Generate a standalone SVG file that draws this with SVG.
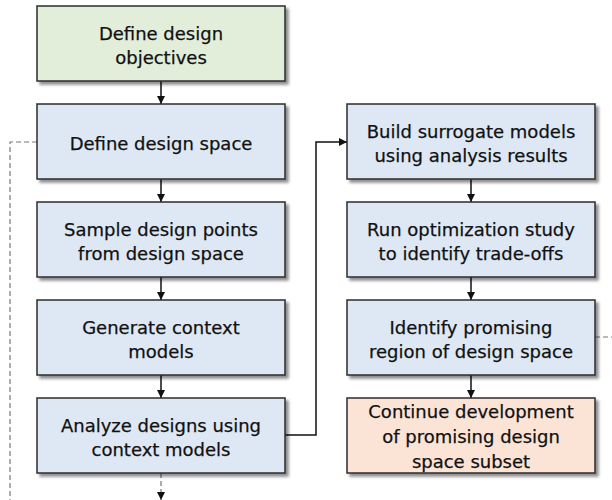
<svg xmlns="http://www.w3.org/2000/svg" width="612" height="500" viewBox="0 0 612 500">
<style>
.box{stroke:#2b2b2b;stroke-width:1.5;filter:url(#sh)}
.g{fill:#e2eed9}.b{fill:#dde8f4}.o{fill:#fbe4d6}
text{font-family:"DejaVu Sans",sans-serif;font-size:18px;fill:#111;stroke:#111;stroke-width:0.25;text-anchor:middle}
.c{fill:none;stroke:#111;stroke-width:1.5}
.d{fill:none;stroke:#777;stroke-width:1.2;stroke-dasharray:5,3}
</style>
<defs>
<filter id="sh" x="-10%" y="-10%" width="130%" height="140%">
<feGaussianBlur in="SourceAlpha" stdDeviation="1.5"/>
<feOffset dx="2.5" dy="2.5" result="o"/>
<feComponentTransfer><feFuncA type="linear" slope="0.45"/></feComponentTransfer>
<feMerge><feMergeNode/><feMergeNode in="SourceGraphic"/></feMerge>
</filter>
<marker id="ah" viewBox="0 0 10 10" refX="10" refY="5" markerWidth="8" markerHeight="8" markerUnits="userSpaceOnUse" orient="auto"><path d="M0,0L10,5L0,10z" fill="#111"/></marker>
</defs>
<g id="connectors">
<path class="c" d="M161,81V104" marker-end="url(#ah)"/>
<path class="c" d="M161,179V202" marker-end="url(#ah)"/>
<path class="c" d="M161,277V300" marker-end="url(#ah)"/>
<path class="c" d="M161,375V398" marker-end="url(#ah)"/>
<path class="c" d="M285,435H316V142H347" marker-end="url(#ah)"/>
<path class="c" d="M471,179V202" marker-end="url(#ah)"/>
<path class="c" d="M471,277V300" marker-end="url(#ah)"/>
<path class="c" d="M471,375V398" marker-end="url(#ah)"/>
<path class="d" d="M37,142H10V500"/>
<path class="d" d="M595,337H612"/>
<path class="d" d="M161,473V500" marker-end="url(#ah)"/>
</g>
<g id="n1"><rect class="box g" x="37" y="6" width="248" height="75"/><text x="161" y="40">Define design</text><text x="161" y="64">objectives</text></g>
<g id="n2"><rect class="box b" x="37" y="104" width="248" height="75"/><text x="161" y="150">Define design space</text></g>
<g id="n3"><rect class="box b" x="37" y="202" width="248" height="75"/><text x="161" y="235.5">Sample design points</text><text x="161" y="260">from design space</text></g>
<g id="n4"><rect class="box b" x="37" y="300" width="248" height="75"/><text x="161" y="333.5">Generate context</text><text x="161" y="358">models</text></g>
<g id="n5"><rect class="box b" x="37" y="398" width="248" height="75"/><text x="161" y="431.5">Analyze designs using</text><text x="161" y="456">context models</text></g>
<g id="n6"><rect class="box b" x="347" y="104" width="248" height="75"/><text x="471" y="137.5">Build surrogate models</text><text x="471" y="162">using analysis results</text></g>
<g id="n7"><rect class="box b" x="347" y="202" width="248" height="75"/><text x="471" y="235.5">Run optimization study</text><text x="471" y="260">to identify trade-offs</text></g>
<g id="n8"><rect class="box b" x="347" y="300" width="248" height="75"/><text x="471" y="333.5">Identify promising</text><text x="471" y="358">region of design space</text></g>
<g id="n9"><rect class="box o" x="347" y="398" width="248" height="75"/><text x="471" y="418">Continue development</text><text x="471" y="443">of promising design</text><text x="471" y="468">space subset</text></g>
</svg>
